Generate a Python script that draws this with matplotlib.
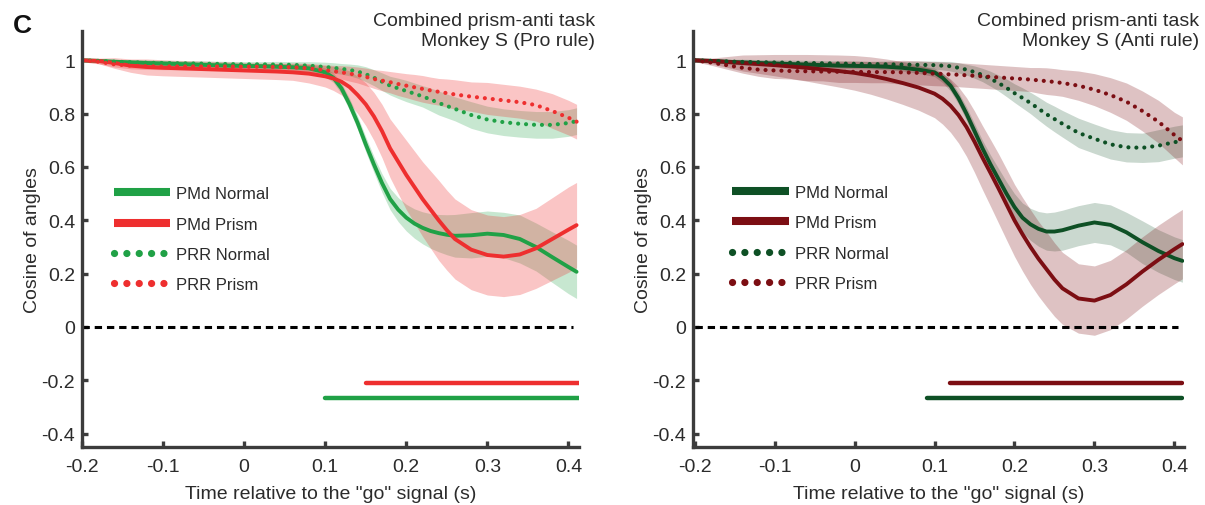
import numpy as np
import matplotlib
matplotlib.use("Agg")
import matplotlib.pyplot as plt
from matplotlib.lines import Line2D

plt.rcParams['font.family'] = ['Liberation Sans', 'DejaVu Sans']

# ---------------- data ----------------
time_s = [-0.20, -0.18, -0.16, -0.14, -0.12, -0.10, -0.08, -0.06, -0.04, -0.02,
          0.00, 0.02, 0.04, 0.06, 0.08, 0.10,
          0.11, 0.12, 0.13, 0.14, 0.15, 0.16, 0.17, 0.18, 0.19, 0.20,
          0.21, 0.22, 0.23, 0.24, 0.25, 0.26,
          0.28, 0.30, 0.32, 0.34, 0.36, 0.38, 0.40, 0.41]

# Left panel (Pro rule)
pro_pmd_normal = [1.000, 0.998, 0.995, 0.992, 0.990, 0.988, 0.986, 0.984, 0.982, 0.980,
                  0.979, 0.978, 0.976, 0.974, 0.970, 0.955,
                  0.935, 0.895, 0.835, 0.765, 0.685, 0.610, 0.540, 0.480, 0.440, 0.410,
                  0.388, 0.372, 0.360, 0.352, 0.346, 0.342,
                  0.344, 0.350, 0.345, 0.330, 0.300, 0.262, 0.225, 0.207]
pro_pmd_normal_err = [0.005, 0.006, 0.008, 0.010, 0.010, 0.010, 0.010, 0.010, 0.010, 0.010,
                      0.010, 0.010, 0.012, 0.012, 0.014, 0.016,
                      0.018, 0.020, 0.022, 0.025, 0.028, 0.030, 0.035, 0.040, 0.045, 0.050,
                      0.055, 0.060, 0.065, 0.070, 0.075, 0.080,
                      0.085, 0.085, 0.085, 0.090, 0.090, 0.095, 0.100, 0.100]
pro_pmd_prism = [1.000, 0.998, 0.990, 0.980, 0.975, 0.972, 0.970, 0.968, 0.966, 0.964,
                 0.962, 0.960, 0.958, 0.955, 0.950, 0.940,
                 0.932, 0.920, 0.900, 0.870, 0.835, 0.790, 0.735, 0.670, 0.620, 0.570,
                 0.525, 0.480, 0.440, 0.400, 0.363, 0.330,
                 0.290, 0.270, 0.264, 0.272, 0.295, 0.330, 0.365, 0.382]
pro_pmd_prism_err = [0.005, 0.010, 0.020, 0.025, 0.030, 0.030, 0.030, 0.030, 0.030, 0.030,
                     0.030, 0.030, 0.030, 0.030, 0.035, 0.040,
                     0.045, 0.050, 0.060, 0.070, 0.080, 0.090, 0.100, 0.110, 0.120, 0.130,
                     0.135, 0.140, 0.145, 0.150, 0.150, 0.150,
                     0.150, 0.150, 0.150, 0.150, 0.150, 0.155, 0.160, 0.160]
pro_prr_normal = [1.000, 0.998, 0.995, 0.993, 0.991, 0.990, 0.989, 0.988, 0.987, 0.986,
                  0.985, 0.985, 0.984, 0.983, 0.980, 0.975,
                  0.972, 0.968, 0.964, 0.958, 0.948, 0.935, 0.920, 0.905, 0.895, 0.885,
                  0.875, 0.865, 0.853, 0.840, 0.829, 0.818,
                  0.795, 0.778, 0.768, 0.762, 0.758, 0.758, 0.765, 0.772]
pro_prr_normal_err = [0.005, 0.006, 0.008, 0.010, 0.010, 0.010, 0.010, 0.010, 0.010, 0.010,
                      0.010, 0.010, 0.012, 0.012, 0.015, 0.018,
                      0.019, 0.020, 0.022, 0.025, 0.028, 0.030, 0.033, 0.035, 0.038, 0.040,
                      0.040, 0.040, 0.043, 0.045, 0.045, 0.045,
                      0.050, 0.050, 0.050, 0.050, 0.050, 0.050, 0.050, 0.050]
pro_prr_prism = [1.000, 0.995, 0.985, 0.980, 0.978, 0.977, 0.977, 0.977, 0.977, 0.977,
                 0.976, 0.976, 0.975, 0.974, 0.970, 0.963,
                 0.959, 0.955, 0.950, 0.945, 0.938, 0.930, 0.924, 0.918, 0.911, 0.905,
                 0.899, 0.893, 0.887, 0.882, 0.877, 0.872,
                 0.864, 0.857, 0.850, 0.843, 0.832, 0.810, 0.785, 0.770]
pro_prr_prism_err = [0.005, 0.008, 0.010, 0.012, 0.012, 0.012, 0.012, 0.012, 0.012, 0.012,
                     0.012, 0.012, 0.014, 0.016, 0.018, 0.020,
                     0.022, 0.025, 0.028, 0.030, 0.033, 0.035, 0.038, 0.040, 0.043, 0.045,
                     0.048, 0.050, 0.050, 0.050, 0.053, 0.055,
                     0.055, 0.060, 0.060, 0.060, 0.060, 0.065, 0.065, 0.065]

# Right panel (Anti rule)
anti_pmd_normal = [1.000, 0.998, 0.995, 0.992, 0.990, 0.988, 0.986, 0.984, 0.982, 0.980,
                   0.979, 0.978, 0.976, 0.972, 0.965, 0.955,
                   0.935, 0.905, 0.858, 0.800, 0.735, 0.670, 0.610, 0.555, 0.500, 0.450,
                   0.410, 0.385, 0.368, 0.358, 0.358, 0.363,
                   0.380, 0.392, 0.383, 0.355, 0.318, 0.285, 0.258, 0.248]
anti_pmd_normal_err = [0.005, 0.006, 0.008, 0.010, 0.010, 0.010, 0.010, 0.010, 0.010, 0.010,
                       0.010, 0.010, 0.012, 0.012, 0.014, 0.016,
                       0.018, 0.020, 0.022, 0.025, 0.028, 0.030, 0.035, 0.040, 0.045, 0.050,
                       0.055, 0.060, 0.065, 0.070, 0.073, 0.075,
                       0.075, 0.075, 0.075, 0.075, 0.080, 0.080, 0.080, 0.080]
anti_pmd_prism = [1.000, 0.998, 0.994, 0.990, 0.986, 0.982, 0.977, 0.972, 0.966, 0.960,
                  0.953, 0.943, 0.930, 0.915, 0.898, 0.875,
                  0.856, 0.830, 0.795, 0.750, 0.695, 0.635, 0.578, 0.520, 0.460, 0.400,
                  0.348, 0.300, 0.256, 0.217, 0.178, 0.145,
                  0.107, 0.099, 0.120, 0.160, 0.208, 0.252, 0.292, 0.311]
anti_pmd_prism_err = [0.005, 0.010, 0.020, 0.030, 0.035, 0.040, 0.045, 0.050, 0.055, 0.060,
                      0.065, 0.070, 0.075, 0.080, 0.085, 0.090,
                      0.095, 0.100, 0.105, 0.110, 0.115, 0.120, 0.125, 0.130, 0.133, 0.135,
                      0.138, 0.140, 0.140, 0.140, 0.138, 0.135,
                      0.130, 0.130, 0.130, 0.130, 0.130, 0.130, 0.130, 0.130]
anti_prr_normal = [1.000, 0.998, 0.996, 0.994, 0.993, 0.992, 0.991, 0.990, 0.989, 0.988,
                   0.987, 0.986, 0.985, 0.984, 0.983, 0.982,
                   0.980, 0.978, 0.972, 0.965, 0.956, 0.945, 0.931, 0.915, 0.897, 0.877,
                   0.859, 0.840, 0.819, 0.798, 0.780, 0.762,
                   0.728, 0.706, 0.685, 0.674, 0.672, 0.680, 0.693, 0.698]
anti_prr_normal_err = [0.005, 0.006, 0.008, 0.010, 0.010, 0.010, 0.010, 0.010, 0.010, 0.010,
                       0.010, 0.010, 0.012, 0.012, 0.014, 0.015,
                       0.016, 0.018, 0.019, 0.020, 0.023, 0.025, 0.028, 0.030, 0.033, 0.035,
                       0.038, 0.040, 0.043, 0.045, 0.048, 0.050,
                       0.055, 0.055, 0.055, 0.055, 0.055, 0.060, 0.060, 0.060]
anti_prr_prism = [1.000, 0.992, 0.982, 0.972, 0.965, 0.962, 0.960, 0.959, 0.958, 0.957,
                  0.957, 0.956, 0.956, 0.955, 0.953, 0.950,
                  0.949, 0.947, 0.946, 0.944, 0.942, 0.940, 0.938, 0.936, 0.934, 0.932,
                  0.930, 0.928, 0.925, 0.922, 0.919, 0.915,
                  0.905, 0.890, 0.870, 0.845, 0.810, 0.770, 0.720, 0.698]
anti_prr_prism_err = [0.005, 0.010, 0.015, 0.020, 0.025, 0.030, 0.030, 0.035, 0.035, 0.040,
                      0.040, 0.040, 0.040, 0.045, 0.045, 0.045,
                      0.045, 0.045, 0.045, 0.045, 0.045, 0.045, 0.045, 0.045, 0.045, 0.045,
                      0.045, 0.045, 0.048, 0.050, 0.050, 0.050,
                      0.055, 0.060, 0.065, 0.070, 0.075, 0.080, 0.085, 0.090]

# Significance bars: [start time, end time]
pro_sig_prism = [0.150, 0.413]
pro_sig_normal = [0.100, 0.413]
anti_sig_prism = [0.120, 0.410]
anti_sig_normal = [0.090, 0.410]
sig_level_prism = -0.21
sig_level_normal = -0.265

x_ticks = [-0.2, -0.1, 0.0, 0.1, 0.2, 0.3, 0.4]
x_ticklabels = ['-0.2', '-0.1', '0', '0.1', '0.2', '0.3', '0.4']
y_ticks = [-0.4, -0.2, 0.0, 0.2, 0.4, 0.6, 0.8, 1.0]
y_ticklabels = ['-0.4', '-0.2', '0', '0.2', '0.4', '0.6', '0.8', '1']
legend_labels = ['PMd Normal', 'PMd Prism', 'PRR Normal', 'PRR Prism']
titles = ['Combined prism-anti task\nMonkey S (Pro rule)',
          'Combined prism-anti task\nMonkey S (Anti rule)']

# ---------------- style ----------------
W, H = 1205, 506
fig = plt.figure(figsize=(W / 100, H / 100), dpi=100)
AX_COL = '#3c3c3c'
TXT_COL = '#2b2b2b'
DOT = (0, (0.01, 1.9))


def make_axes(left_px, width_px, xlim):
    ax = fig.add_axes([left_px / W, 1 - 448 / H, width_px / W, 416 / H])
    ax.set_xlim(*xlim)
    ax.set_ylim(-0.45, 1.11)
    for s in ['top', 'right']:
        ax.spines[s].set_visible(False)
    for s in ['left', 'bottom']:
        ax.spines[s].set_color(AX_COL)
        ax.spines[s].set_linewidth(2.4)
    ax.set_xticks(x_ticks)
    ax.set_xticklabels(x_ticklabels)
    ax.set_yticks(y_ticks)
    ax.set_yticklabels(y_ticklabels)
    ax.tick_params(direction='in', length=4, width=2.4, color=AX_COL,
                   labelsize=14, labelcolor=TXT_COL, pad=5)
    ax.tick_params(axis='x', pad=8)
    ax.set_xlabel('Time relative to the "go" signal (s)', fontsize=14,
                  color=TXT_COL, labelpad=7)
    ax.set_ylabel('Cosine of angles', fontsize=14, color=TXT_COL, labelpad=0)
    return ax


def draw_panel(ax, series, colors, alphas, sig_normal, sig_prism, title,
               title_right_px, leg_anchor):
    t = np.array(time_s)
    for (vals, err, kind), c, a in zip(series, colors, alphas):
        v = np.array(vals)
        e = np.array(err)
        ax.fill_between(t, v - e, v + e, color=c, alpha=a, lw=0)
    ax.plot([-0.2, 0.405], [0, 0], color='black', lw=2.2,
            dashes=(2.4, 1.6), solid_capstyle='butt')
    for (vals, err, kind), c, a in zip(series, colors, alphas):
        if kind == 'solid':
            ax.plot(t, vals, color=c, lw=2.8, solid_capstyle='round',
                    solid_joinstyle='round')
        else:
            ax.plot(t, vals, color=c, lw=3.0, linestyle=DOT,
                    dash_capstyle='round')
    ax.plot(sig_prism, [sig_level_prism] * 2, color=colors[1], lw=3.2,
            solid_capstyle='round')
    ax.plot(sig_normal, [sig_level_normal] * 2, color=colors[0], lw=3.2,
            solid_capstyle='round')
    fig.text(title_right_px / W, 1 - 13 / H, title, ha='right', va='top',
             fontsize=14, color=TXT_COL, linespacing=1.25)
    handles = [
        Line2D([], [], color=colors[0], lw=5.8, solid_capstyle='butt'),
        Line2D([], [], color=colors[1], lw=5.8, solid_capstyle='butt'),
        Line2D([], [], color=colors[2], lw=5.2, linestyle=(0, (0.01, 1.7)),
               dash_capstyle='round'),
        Line2D([], [], color=colors[3], lw=5.2, linestyle=(0, (0.01, 1.7)),
               dash_capstyle='round'),
    ]
    leg = ax.legend(handles, legend_labels, loc='upper left',
                    bbox_to_anchor=leg_anchor, frameon=False, fontsize=12,
                    handlelength=3.4, handletextpad=0.35, labelspacing=0.92,
                    borderpad=0, borderaxespad=0)
    for txt in leg.get_texts():
        txt.set_color(TXT_COL)


green_l, red_l = '#20a146', '#ee2f2f'
green_r, red_r = '#0e5025', '#7c0e13'

ax1 = make_axes(82, 497, (-0.2, 0.413))
draw_panel(ax1,
           [(pro_pmd_normal, pro_pmd_normal_err, 'solid'),
            (pro_pmd_prism, pro_pmd_prism_err, 'solid'),
            (pro_prr_normal, pro_prr_normal_err, 'dot'),
            (pro_prr_prism, pro_prr_prism_err, 'dot')],
           [green_l, red_l, green_l, red_l], [0.25, 0.28, 0.25, 0.28],
           pro_sig_normal, pro_sig_prism, titles[0], 595, (0.064, 0.627))

ax2 = make_axes(693, 491, (-0.202, 0.412))
draw_panel(ax2,
           [(anti_pmd_normal, anti_pmd_normal_err, 'solid'),
            (anti_pmd_prism, anti_pmd_prism_err, 'solid'),
            (anti_prr_normal, anti_prr_normal_err, 'dot'),
            (anti_prr_prism, anti_prr_prism_err, 'dot')],
           [green_r, red_r, green_r, red_r], [0.22, 0.25, 0.22, 0.25],
           anti_sig_normal, anti_sig_prism, titles[1], 1199, (0.08, 0.63))

fig.text(13 / W, 1 - 14 / H, 'C', fontsize=19, fontweight='bold',
         color='#111111', ha='left', va='top')

fig.savefig('out.png', dpi=100)
